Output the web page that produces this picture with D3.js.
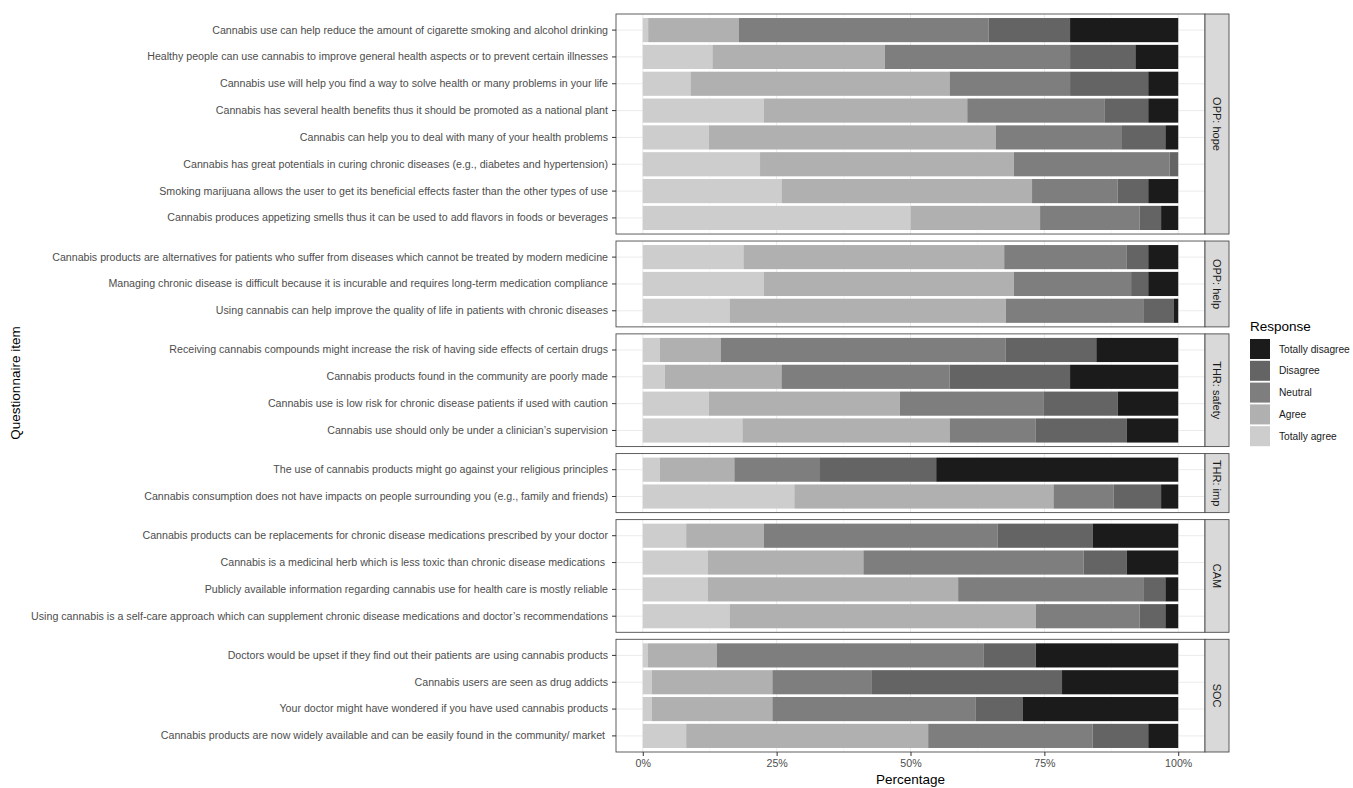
<!DOCTYPE html>
<html>
<head>
<meta charset="utf-8">
<script src="https://cdn.jsdelivr.net/npm/d3@7"></script>
<style>
  body { margin: 0; background: #fff; }
  svg text { font-family: "Liberation Sans", Arial, sans-serif; }
</style>
</head>
<body>
<svg id="chart" width="1353" height="788"></svg>
<script>
// response levels, left to right in each bar
const responses = ["Totally agree", "Agree", "Neutral", "Disagree", "Totally disagree"]
const fills = ["#cdcdcd", "#b0b0b0", "#7e7e7e", "#646464", "#1b1b1b"]

const groups = ["OPP: hope", "OPP: help", "THR: safety", "THR: imp", "CAM", "SOC"]

// items per group, top to bottom
const itemsHope = [
  "Cannabis use can help reduce the amount of cigarette smoking and alcohol drinking",
  "Healthy people can use cannabis to improve general health aspects or to prevent certain illnesses",
  "Cannabis use will help you find a way to solve health or many problems in your life",
  "Cannabis has several health benefits thus it should be promoted as a national plant",
  "Cannabis can help you to deal with many of your health problems",
  "Cannabis has great potentials in curing chronic diseases (e.g., diabetes and hypertension)",
  "Smoking marijuana allows the user to get its beneficial effects faster than the other types of use",
  "Cannabis produces appetizing smells thus it can be used to add flavors in foods or beverages"
]
const itemsHelp = [
  "Cannabis products are alternatives for patients who suffer from diseases which cannot be treated by modern medicine",
  "Managing chronic disease is difficult because it is incurable and requires long-term medication compliance",
  "Using cannabis can help improve the quality of life in patients with chronic diseases"
]
const itemsSafety = [
  "Receiving cannabis compounds might increase the risk of having side effects of certain drugs",
  "Cannabis products found in the community are poorly made",
  "Cannabis use is low risk for chronic disease patients if used with caution",
  "Cannabis use should only be under a clinician\u2019s supervision"
]
const itemsImp = [
  "The use of cannabis products might go against your religious principles",
  "Cannabis consumption does not have impacts on people surrounding you (e.g., family and friends)"
]
const itemsCam = [
  "Cannabis products can be replacements for chronic disease medications prescribed by your doctor",
  "Cannabis is a medicinal herb which is less toxic than chronic disease medications ",
  "Publicly available information regarding cannabis use for health care is mostly reliable",
  "Using cannabis is a self-care approach which can supplement chronic disease medications and doctor\u2019s recommendations"
]
const itemsSoc = [
  "Doctors would be upset if they find out their patients are using cannabis products",
  "Cannabis users are seen as drug addicts",
  "Your doctor might have wondered if you have used cannabis products",
  "Cannabis products are now widely available and can be easily found in the community/ market "
]

// percentages: [Totally agree, Agree, Neutral, Disagree, Totally disagree]
const valuesHope = [
  [1.0, 16.9, 46.7, 15.2, 20.2],
  [13.0, 32.2, 34.6, 12.2, 8.0],
  [8.9, 48.4, 22.5, 14.6, 5.6],
  [22.6, 38.0, 25.7, 8.1, 5.6],
  [12.3, 53.6, 23.6, 8.1, 2.4],
  [21.9, 47.4, 29.1, 1.6, 0.0],
  [25.9, 46.8, 16.0, 5.7, 5.6],
  [50.0, 24.2, 18.6, 4.0, 3.2]
]
const valuesHelp = [
  [18.8, 48.7, 22.9, 4.0, 5.6],
  [22.6, 46.7, 21.9, 3.2, 5.6],
  [16.2, 51.6, 25.8, 5.6, 0.8]
]
const valuesSafety = [
  [3.2, 11.4, 53.2, 16.9, 15.3],
  [4.1, 21.8, 31.4, 22.5, 20.2],
  [12.3, 35.7, 26.8, 13.9, 11.3],
  [18.6, 38.7, 16.1, 17.0, 9.6]
]
const valuesImp = [
  [3.2, 13.9, 16.0, 21.7, 45.2],
  [28.3, 48.4, 11.2, 8.9, 3.2]
]
const valuesCam = [
  [8.1, 14.5, 43.7, 17.7, 16.0],
  [12.1, 29.1, 41.1, 8.1, 9.6],
  [12.1, 46.8, 34.7, 4.0, 2.4],
  [16.2, 57.2, 19.4, 4.8, 2.4]
]
const valuesSoc = [
  [0.9, 12.9, 49.9, 9.7, 26.6],
  [1.7, 22.5, 18.6, 35.5, 21.7],
  [1.7, 22.5, 38.0, 8.8, 29.0],
  [8.1, 45.2, 30.7, 10.4, 5.6]
]

const xTicks = [0, 25, 50, 75, 100]

const panels = [
  [itemsHope, valuesHope],
  [itemsHelp, valuesHelp],
  [itemsSafety, valuesSafety],
  [itemsImp, valuesImp],
  [itemsCam, valuesCam],
  [itemsSoc, valuesSoc]
].map(([items, vals], i) => ({ group: groups[i], items, vals }))

const svg = d3.select("#chart")

const plotLeft = 616, plotRight = 1205, plotTop = 14, plotBottom = 752
const gap = 7, stripW = 24

const x = d3.scaleLinear().domain([-5, 105]).range([plotLeft, plotRight])

// facet heights proportional to item count (free space)
const units = d3.sum(panels, p => p.items.length + 0.2)
const step = (plotBottom - plotTop - gap * (panels.length - 1)) / units

const color = d3.scaleOrdinal(responses, fills)

let y0 = plotTop
panels.forEach(p => {
  const h = step * (p.items.length + 0.2)
  const y = d3.scaleBand(p.items, [y0, y0 + h]).paddingInner(0.1).paddingOuter(0.15)
  const g = svg.append("g")

  g.append("rect")
    .attr("x", plotLeft).attr("y", y0)
    .attr("width", plotRight - plotLeft).attr("height", h)
    .attr("fill", "#fff")

  // minor + major grid
  const minor = xTicks.slice(0, -1).map(t => t + 12.5)
  g.selectAll(".minor").data(minor).join("line")
    .attr("x1", d => x(d)).attr("x2", d => x(d))
    .attr("y1", y0).attr("y2", y0 + h)
    .attr("stroke", "#f4f4f4").attr("stroke-width", 0.6)
  g.selectAll(".major").data(xTicks).join("line")
    .attr("x1", d => x(d)).attr("x2", d => x(d))
    .attr("y1", y0).attr("y2", y0 + h)
    .attr("stroke", "#ebebeb").attr("stroke-width", 1)
  g.selectAll(".hgrid").data(p.items).join("line")
    .attr("x1", plotLeft).attr("x2", plotRight)
    .attr("y1", d => y(d) + y.bandwidth() / 2).attr("y2", d => y(d) + y.bandwidth() / 2)
    .attr("stroke", "#ebebeb").attr("stroke-width", 1)

  // stacked bars
  p.items.forEach((item, i) => {
    const stack = d3.cumsum(p.vals[i])
    g.selectAll(null).data(responses).join("rect")
      .attr("x", (d, k) => x(k ? stack[k - 1] : 0))
      .attr("width", (d, k) => Math.max(0, x(stack[k]) - x(k ? stack[k - 1] : 0)))
      .attr("y", y(item))
      .attr("height", y.bandwidth())
      .attr("fill", d => color(d))
  })

  g.append("rect")
    .attr("x", plotLeft).attr("y", y0)
    .attr("width", plotRight - plotLeft).attr("height", h)
    .attr("fill", "none").attr("stroke", "#4d4d4d").attr("stroke-width", 0.9)

  // strip
  g.append("rect")
    .attr("x", plotRight).attr("y", y0)
    .attr("width", stripW).attr("height", h)
    .attr("fill", "#d9d9d9").attr("stroke", "#4d4d4d").attr("stroke-width", 0.9)
  g.append("text")
    .attr("transform", `translate(${plotRight + stripW / 2},${y0 + h / 2}) rotate(90)`)
    .attr("text-anchor", "middle").attr("dy", "0.35em")
    .attr("font-size", 11).attr("fill", "#1a1a1a")
    .text(p.group)

  // y axis
  const ax = g.append("g")
    .attr("transform", `translate(${plotLeft},0)`)
    .call(d3.axisLeft(y).tickSize(4).tickPadding(4))
  ax.select(".domain").remove()
  ax.selectAll(".tick line").attr("stroke", "#333")
  ax.selectAll(".tick text")
    .attr("font-size", 10.65).attr("fill", "#4d4d4d")
    .attr("font-family", "Liberation Sans, Arial, sans-serif")
    .style("white-space", "pre")

  y0 += h + gap
})

// x axis
const xa = svg.append("g")
  .attr("transform", `translate(0,${plotBottom})`)
  .call(d3.axisBottom(x).tickValues(xTicks).tickFormat(d => d + "%").tickSize(4).tickPadding(3))
xa.select(".domain").remove()
xa.selectAll(".tick line").attr("stroke", "#333")
xa.selectAll(".tick text")
  .attr("font-size", 10.65).attr("fill", "#4d4d4d")
  .attr("font-family", "Liberation Sans, Arial, sans-serif")

svg.append("text")
  .attr("x", (plotLeft + plotRight) / 2).attr("y", 784)
  .attr("text-anchor", "middle").attr("font-size", 13.5).attr("fill", "#000")
  .text("Percentage")

svg.append("text")
  .attr("transform", `translate(20,${(plotTop + plotBottom) / 2}) rotate(-90)`)
  .attr("text-anchor", "middle").attr("font-size", 13.5).attr("fill", "#000")
  .text("Questionnaire item")

// legend, reversed order as in the reference
const legend = svg.append("g").attr("transform", "translate(1250,0)")
legend.append("text")
  .attr("x", 0).attr("y", 331)
  .attr("font-size", 13.5).attr("fill", "#000")
  .text("Response")
const legendItems = responses.slice().reverse()
legend.selectAll(".key").data(legendItems).join("rect")
  .attr("x", 0).attr("y", (d, i) => 339 + i * 21.8)
  .attr("width", 20).attr("height", 20)
  .attr("fill", d => color(d))
legend.selectAll(".lab").data(legendItems).join("text")
  .attr("x", 29).attr("y", (d, i) => 339 + i * 21.8 + 10)
  .attr("dy", "0.35em")
  .attr("font-size", 10.2).attr("fill", "#1a1a1a")
  .text(d => d)
</script>
</body>
</html>
